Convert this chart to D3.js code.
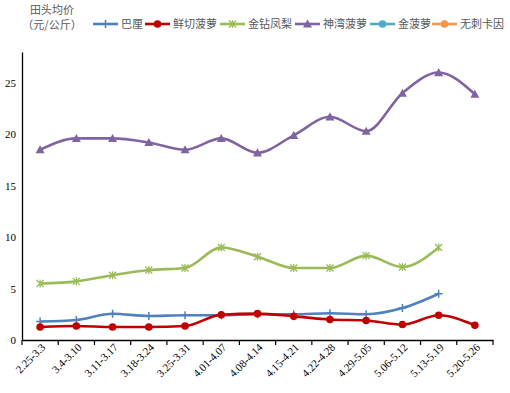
<!DOCTYPE html>
<html><head><meta charset="utf-8">
<script src="https://cdn.jsdelivr.net/npm/d3@7/dist/d3.min.js"></script>
<style>body{margin:0;background:#fff}</style>
</head><body>
<svg id="c" width="510" height="393"></svg>
<script>
const categories = ["2.25-3.3","3.4-3.10","3.11-3.17","3.18-3.24","3.25-3.31","4.01-4.07","4.08-4.14","4.15-4.21","4.22-4.28","4.29-5.05","5.06-5.12","5.13-5.19","5.20-5.26"];
const seriesNames = ["巴厘","鲜切菠萝","金钻凤梨","神湾菠萝","金菠萝","无刺卡因"];
const bali =    [1.8, 1.95, 2.55, 2.33, 2.4, 2.4, 2.5, 2.5, 2.6, 2.5, 3.1, 4.5, null];
const xianqie = [1.26, 1.36, 1.26, 1.26, 1.36, 2.46, 2.56, 2.3, 2.0, 1.9, 1.5, 2.4, 1.43];
const jinzuan = [5.5, 5.7, 6.3, 6.8, 7.0, 9.0, 8.1, 7.0, 7.0, 8.2, 7.1, 9.0, null];
const shenwan = [18.5, 19.6, 19.6, 19.2, 18.5, 19.6, 18.2, 19.9, 21.7, 20.3, 24.0, 26.0, 23.9];
const jinboluo = [];
const wuci = [];
const yTicks = [0,5,10,15,20,25];

const colors = ["#4f81bd","#c00000","#9bbb59","#8064a2","#4bacc6","#f79646"];
const markers = ["plus","circle","star","triangle","circle","circle"];
const data = [bali, xianqie, jinzuan, shenwan, jinboluo, wuci];

const svg = d3.select("#c");
const mLeft = 22, mRight = 493, mTop = 52, mBottom = 340;
const x = d3.scaleBand().domain(categories).range([mLeft, mRight]);
const y = d3.scaleLinear().domain([0, 28]).range([mBottom, mTop]);

// axes
const xAxis = svg.append("g").attr("transform", `translate(0,${mBottom})`)
  .call(d3.axisBottom(x).tickSize(0).tickFormat(""));
xAxis.select(".domain").attr("stroke","#000").attr("stroke-width",1.3);
const bounds = categories.map(c => x(c)).concat([mRight]);
svg.append("g").selectAll("line").data(bounds).join("line")
  .attr("x1", d=>d).attr("x2", d=>d).attr("y1", mBottom).attr("y2", mBottom+5)
  .attr("stroke","#000").attr("stroke-width",1.2);
svg.append("g").selectAll("text").data(categories).join("text")
  .attr("transform", d => `translate(${x(d)+x.bandwidth()/2+6},${mBottom+8}) rotate(-45)`)
  .attr("text-anchor","end")
  .attr("font-family","'Liberation Serif', 'DejaVu Serif', serif")
  .attr("font-size",11).attr("fill","#000")
  .text(d=>d);

const yAxis = svg.append("g").attr("transform", `translate(${mLeft},0)`)
  .call(d3.axisLeft(y).tickValues(yTicks).tickSize(0).tickPadding(6));
yAxis.select(".domain").attr("stroke","#000").attr("stroke-width",1.3);
yAxis.selectAll("text").attr("font-family","'Liberation Serif', serif").attr("font-size",11).attr("fill","#000");

const line = d3.line().defined(d=>d.v!=null)
  .x(d => x(d.c)+x.bandwidth()/2).y(d => y(d.v)).curve(d3.curveMonotoneX);

function drawMarker(g, type, cx, cy, color){
  if(type==="circle"){
    g.append("circle").attr("cx",cx).attr("cy",cy).attr("r",3.8).attr("fill",color);
  } else if(type==="triangle"){
    const s=4.5;
    g.append("path").attr("d",`M${cx},${cy-s}L${cx+s},${cy+s*0.8}L${cx-s},${cy+s*0.8}Z`).attr("fill",color);
  } else if(type==="plus"){
    g.append("path").attr("d",`M${cx-4},${cy}H${cx+4}M${cx},${cy-4}V${cy+4}`).attr("stroke",color).attr("stroke-width",1.5);
  } else if(type==="star"){
    g.append("path").attr("d",`M${cx-3.5},${cy-3.5}L${cx+3.5},${cy+3.5}M${cx-3.5},${cy+3.5}L${cx+3.5},${cy-3.5}M${cx},${cy-4}V${cy+4}`).attr("stroke",color).attr("stroke-width",1.3);
  }
}

data.forEach((vals, i) => {
  if (!vals.length) return;
  const pts = categories.map((c, j) => ({c, v: vals[j] == null ? null : vals[j]}));
  const g = svg.append("g");
  g.append("path").datum(pts).attr("d", line).attr("fill","none")
    .attr("stroke", colors[i]).attr("stroke-width", 2.6);
  pts.filter(p=>p.v!=null).forEach(p => drawMarker(g, markers[i], x(p.c)+x.bandwidth()/2, y(p.v), colors[i]));
});

svg.append("text").attr("x",52).attr("y",14).attr("text-anchor","middle")
  .attr("font-family","'Noto Sans CJK SC', sans-serif").attr("font-size",11).attr("fill","#595959").text("田头均价");
svg.append("text").attr("x",52).attr("y",29).attr("text-anchor","middle")
  .attr("font-family","'Noto Sans CJK SC', sans-serif").attr("font-size",11).attr("fill","#595959").text("（元/公斤）");

const legX = [93, 145, 220, 295, 370, 432];
seriesNames.forEach((n, i) => {
  const g = svg.append("g");
  const lx = legX[i], ly = 24;
  g.append("line").attr("x1",lx).attr("x2",lx+25).attr("y1",ly).attr("y2",ly).attr("stroke",colors[i]).attr("stroke-width",2.6);
  drawMarker(g, markers[i], lx+12.5, ly, colors[i]);
  g.append("text").attr("x",lx+28).attr("y",ly+4)
    .attr("font-family","'Noto Sans CJK SC', sans-serif").attr("font-size",11).attr("fill","#595959").text(n);
});
</script>
</body></html>
